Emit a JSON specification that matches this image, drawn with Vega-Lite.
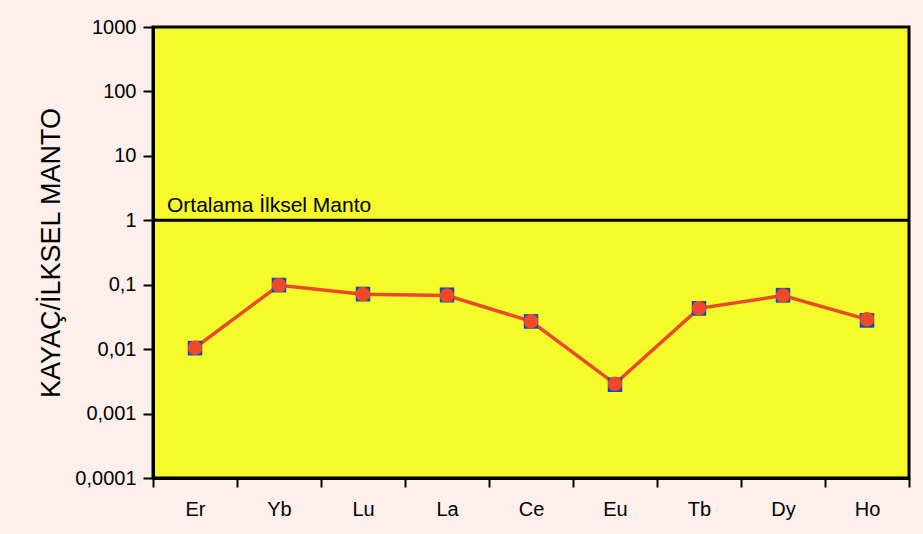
{
  "$schema": "https://vega.github.io/schema/vega-lite/v6.json",
  "width": 756,
  "height": 451,
  "autosize": "none",
  "padding": {"left": 153, "top": 27, "right": 14, "bottom": 56},
  "background": "#fdf0ec",
  "config": {
    "font": "Liberation Sans",
    "view": {"fill": "#f5fa2a", "stroke": "#000000", "strokeWidth": 3},
    "axis": {"domainColor": "#000000", "domainWidth": 3, "tickColor": "#000000", "tickWidth": 2, "labelColor": "#000000", "titleColor": "#000000", "grid": false, "labelFont": "Liberation Sans", "titleFont": "Liberation Sans"}
  },
  "datasets": {
    "ree": [
      {"element": "Er", "series": "B", "value": 0.0100},
      {"element": "Yb", "series": "B", "value": 0.095},
      {"element": "Lu", "series": "B", "value": 0.068},
      {"element": "La", "series": "B", "value": 0.065},
      {"element": "Ce", "series": "B", "value": 0.026},
      {"element": "Eu", "series": "B", "value": 0.0027},
      {"element": "Tb", "series": "B", "value": 0.041},
      {"element": "Dy", "series": "B", "value": 0.065},
      {"element": "Ho", "series": "B", "value": 0.027},
      {"element": "Er", "series": "A", "value": 0.0104},
      {"element": "Yb", "series": "A", "value": 0.099},
      {"element": "Lu", "series": "A", "value": 0.072},
      {"element": "La", "series": "A", "value": 0.070},
      {"element": "Ce", "series": "A", "value": 0.027},
      {"element": "Eu", "series": "A", "value": 0.0028},
      {"element": "Tb", "series": "A", "value": 0.043},
      {"element": "Dy", "series": "A", "value": 0.069},
      {"element": "Ho", "series": "A", "value": 0.028},
      {"element": "Er", "series": "C", "value": 0.0105},
      {"element": "Yb", "series": "C", "value": 0.098},
      {"element": "Lu", "series": "C", "value": 0.071},
      {"element": "La", "series": "C", "value": 0.068},
      {"element": "Ce", "series": "C", "value": 0.027},
      {"element": "Eu", "series": "C", "value": 0.0029},
      {"element": "Tb", "series": "C", "value": 0.043},
      {"element": "Dy", "series": "C", "value": 0.068},
      {"element": "Ho", "series": "C", "value": 0.029}
    ],
    "ref": [{"value": 1, "element": "Er", "label": "Ortalama İlksel Manto"}]
  },
  "encoding": {
    "x": {
      "field": "element",
      "type": "nominal",
      "sort": ["Er", "Yb", "Lu", "La", "Ce", "Eu", "Tb", "Dy", "Ho"],
      "scale": {"paddingInner": 0, "paddingOuter": 0},
      "axis": {"title": null, "labelAngle": 0, "tickBand": "extent", "tickSize": 9, "labelFontSize": 20, "labelPadding": 12, "domainWidth": 3}
    },
    "y": {
      "field": "value",
      "type": "quantitative",
      "scale": {"type": "log", "domain": [0.0001, 1000], "nice": false},
      "axis": {
        "title": "KAYAÇ/İLKSEL MANTO",
        "titleFontSize": 27,
        "titleFontWeight": "normal",
        "titlePadding": 9,
        "values": [0.0001, 0.001, 0.01, 0.1, 1, 10, 100, 1000],
        "labelExpr": "replace(datum.value >= 1 ? format(datum.value, 'd') : format(datum.value, '.4~f'), '.', ',')",
        "labelFontSize": 20,
        "tickSize": 10,
        "labelPadding": 7
      }
    }
  },
  "layer": [
    {
      "data": {"name": "ref"},
      "mark": {"type": "rule", "color": "#000000", "strokeWidth": 3},
      "encoding": {"x": null}
    },
    {
      "data": {"name": "ref"},
      "mark": {"type": "text", "align": "left", "baseline": "alphabetic", "dx": -28, "dy": -8, "fontSize": 21, "color": "#000000"},
      "encoding": {"text": {"field": "label"}}
    },
    {
      "data": {"name": "ree"},
      "transform": [{"filter": "datum.series === 'C'"}],
      "mark": {"type": "line", "strokeWidth": 3.5, "color": "#e84a2a"},
      "encoding": {}
    },
    {
      "data": {"name": "ree"},
      "mark": {"type": "point", "filled": true, "opacity": 1, "size": 210},
      "encoding": {
        "color": {"field": "series", "type": "nominal", "scale": {"domain": ["B", "A", "C"], "range": ["#5cc060", "#1848c0", "#ee4a2a"]}, "legend": null},
        "shape": {"field": "series", "type": "nominal", "scale": {"domain": ["B", "A", "C"], "range": ["triangle-up", "square", "circle"]}, "legend": null}
      }
    }
  ]
}
